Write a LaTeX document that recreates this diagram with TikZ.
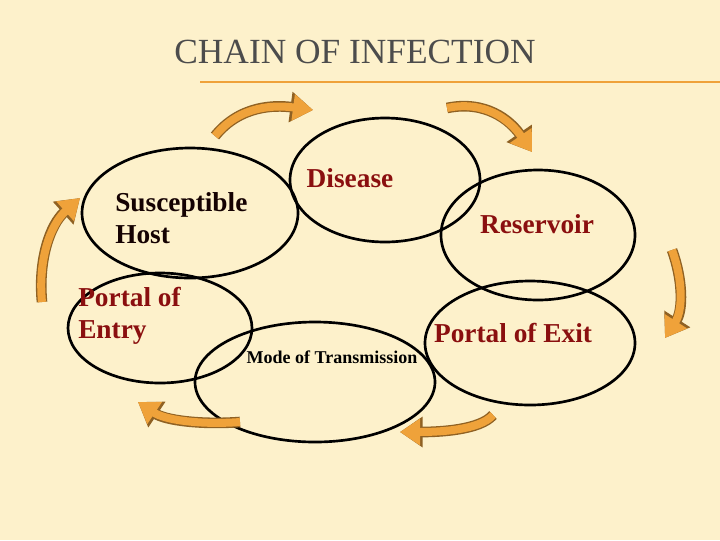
\documentclass[tikz,border=0pt]{standalone}
\usepackage{fontspec}
\setmainfont{Liberation Serif}
\usetikzlibrary{arrows.meta}
\definecolor{cream}{HTML}{FDF1CB}
\definecolor{arroworange}{HTML}{EFA23A}
\definecolor{darkred}{HTML}{8A0F0F}
\tikzset{
  link/.style={draw=black, line width=2pt},
  label/.style={font=\bfseries\fontsize{20.5}{24}\selectfont, text=darkred, align=left, inner sep=0pt},
  cycle/.style={draw=arroworange!60!black, line width=8pt,
    -{Triangle[width=22pt,length=17pt]}},
  cyclefill/.style={draw=arroworange, line width=6pt,
    -{Triangle[width=19pt,length=15pt]}}
}
\begin{document}
\begin{tikzpicture}[x=0.75pt,y=-0.75pt]
  \fill[cream] (0,0) rectangle (720,540);
  \useasboundingbox (0,0) rectangle (720,540);
  % title
  \node[font=\fontsize{26.5}{28}\selectfont, text=black!70] (title) at (355,52) {CHAIN OF INFECTION};
  \draw[arroworange, line width=1pt] (200,82) -- (720,82);
  % links of the chain
  \draw[link] (190,213) ellipse (108 and 65);
  \draw[link] (385,180) ellipse (95 and 62);
  \draw[link] (538,235) ellipse (97 and 65);
  \draw[link] (160,328) ellipse (92 and 55);
  \draw[link] (315,382) ellipse (120 and 60);
  \draw[link] (530,343) ellipse (105 and 62);
  % labels
  \node[label, anchor=west, text=black!85!darkred] (host) at (115,218) {Susceptible\\Host};
  \node[label] (disease) at (350,178) {Disease};
  \node[label] (reservoir) at (537,224) {Reservoir};
  \node[label, anchor=west] (entry) at (78,316) {Portal of\\Entry};
  \node[label] (exit) at (513,333) {Portal of Exit};
  \node[font=\bfseries\fontsize{13.5}{15}\selectfont, inner sep=0pt] (mode) at (332,357) {Mode of Transmission};
  % cycle arrows
  \foreach \s in {cycle, cyclefill} {
    \draw[\s] (215,136) .. controls (240,105) and (275,105) .. (313,110);
    \draw[\s] (447,108) .. controls (485,100) and (510,120) .. (532,152);
    \draw[\s] (672,250) .. controls (683,280) and (683,310) .. (665,338);
    \draw[\s] (493,415) .. controls (480,430) and (440,432) .. (400,432);
    \draw[\s] (240,422) .. controls (200,425) and (165,420) .. (138,402);
    \draw[\s] (42,302) .. controls (38,260) and (50,225) .. (80,198);
  }
\end{tikzpicture}
\end{document}
